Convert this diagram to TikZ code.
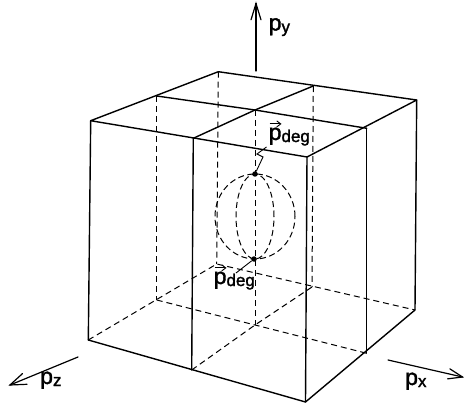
\documentclass[tikz,border=0pt]{standalone}
\usepackage{fontspec}
\setsansfont{Liberation Sans}[FakeBold=1.6]
\usetikzlibrary{arrows.meta,calc}
\newcommand{\pmain}{{\fontsize{23}{23}\selectfont p}}
\newcommand{\psub}[1]{\raisebox{-2pt}{\fontsize{17}{17}\selectfont #1}}
\begin{document}
\begin{tikzpicture}[x=1pt,y=-1pt,
  solidln/.style={line width=1.4pt, line cap=round, line join=round},
  hid/.style={line width=1pt, dash pattern=on 6pt off 4pt},
  sph/.style={line width=1pt, dash pattern=on 6pt off 3.5pt},
  axisln/.style={line width=1.2pt, line cap=round, line join=miter},
  lab/.style={inner sep=0pt, anchor=base west, font=\sffamily},
  dotn/.style={circle, fill=black, inner sep=0pt, minimum size=5.5pt},
  ptr/.style={line width=0.9pt},
  vecarr/.style={line width=0.9pt, -{Straight Barb[length=4pt,width=6pt,line width=0.9pt]}}]
\useasboundingbox (0,0) rectangle (464,404);
% top face
\coordinate (TB) at (218.3,71.7);
\coordinate (TL) at (90.7,120.7);
\coordinate (TF) at (307,157);
\coordinate (TR) at (416.7,100);
\coordinate (TLB) at (156.7,96);
\coordinate (TBR) at (313.3,86);
\coordinate (TLF) at (193.3,138.3);
\coordinate (TFR) at (366.7,128.3);
\coordinate (TC) at (255,110);
% bottom face
\coordinate (BB) at (216.7,264);
\coordinate (BL) at (88.3,340);
\coordinate (BF) at (305.5,402);
\coordinate (BR) at (415,310);
\coordinate (BLB) at (156.7,300);
\coordinate (BBR) at (312,287);
\coordinate (BLF) at (191.7,370);
\coordinate (BFR) at (366.7,353.3);
\coordinate (BC) at (255,325);
% hidden lines
\draw[hid] (TB) -- (BB);
\draw[hid] (TLB) -- (BLB);
\draw[hid] (TBR) -- (BBR);
\draw[hid] (TC) -- (BC);
\draw[hid] (BL) -- (BB) -- (BR);
\draw[hid] (BLB) -- (BC) -- (BFR);
\draw[hid] (BLF) -- (BC) -- (BBR);
% visible lines
\draw[solidln] (TB) -- (TL) -- (TF) -- (TR) -- cycle;
\draw[solidln] (TLB) -- (TC) -- (TFR);
\draw[solidln] (TLF) -- (TC) -- (TBR);
\draw[solidln] (TL) -- (BL);
\draw[solidln] (TF) -- (BF);
\draw[solidln] (TR) -- (BR);
\draw[solidln] (TLF) -- (BLF);
\draw[solidln] (TFR) -- (BFR);
\draw[solidln] (BL) -- (BF) -- (BR);
% sphere
\draw[sph] (255,216.5) ellipse [x radius=40pt, y radius=42.5pt];
\draw[sph] (255,216.5) ellipse [x radius=19pt, y radius=42.5pt];
\node[dotn] (dT) at (255,174) {};
\node[dotn] (dB) at (254,259) {};
% labels for p_deg
\node[lab] (pdT) at (268.5,140) {\pmain\psub{deg}};
\draw[vecarr] ([xshift=1pt,yshift=3.5pt]pdT.north west) -- ++(12,0);
\node[lab] (pdB) at (213.5,284) {\pmain\psub{deg}};
\draw[vecarr] ([xshift=1pt,yshift=3.5pt]pdB.north west) -- ++(12,0);
\coordinate (zzT) at (266.5,147);
\draw[ptr] (zzT) -- (257,154) -- (263,157) -- (dT);
\coordinate (zzB) at (236,273);
\draw[ptr] (zzB) -- (dB);
% axes
\coordinate (pyS) at (256,71);
\coordinate (pyE) at (256,3.5);
\draw[axisln] (pyS) -- (pyE);
\draw[axisln] ($(pyE)!17pt!17:(pyS)$) -- (pyE) -- ($(pyE)!17pt!-17:(pyS)$);
\node[lab] (py) at (268.5,30.5) {\pmain\psub{y}};
\coordinate (pzS) at (78,357);
\coordinate (pzE) at (10,385);
\draw[axisln] (pzS) -- (pzE);
\draw[axisln] ($(pzE)!17pt!20:(pzS)$) -- (pzE) -- ($(pzE)!17pt!-20:(pzS)$);
\node[lab] (pz) at (40,384) {\pmain\psub{z}};
\coordinate (pxS) at (388,360);
\coordinate (pxE) at (462.5,377);
\draw[axisln] (pxS) -- (pxE);
\draw[axisln] ($(pxE)!15pt!20:(pxS)$) -- (pxE) -- ($(pxE)!15pt!-20:(pxS)$);
\node[lab] (px) at (405,385) {\pmain\psub{x}};
\end{tikzpicture}
\end{document}
